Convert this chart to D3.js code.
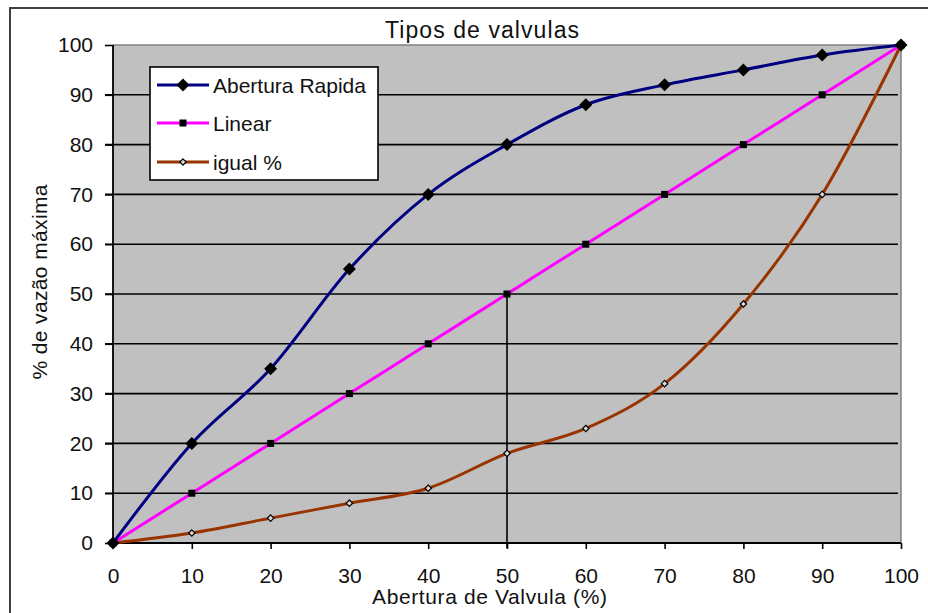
<!DOCTYPE html>
<html>
<head>
<meta charset="utf-8">
<script src="https://cdn.jsdelivr.net/npm/d3@7"></script>
<style>
  html, body { margin: 0; padding: 0; background: #fff; }
  svg { display: block; font-family: "Liberation Sans", Arial, sans-serif; }
</style>
</head>
<body>
<svg id="chart" width="928" height="613"></svg>
<script>
// ---- data ----
const xValues = [0, 10, 20, 30, 40, 50, 60, 70, 80, 90, 100];
const abertura = [0, 20, 35, 55, 70, 80, 88, 92, 95, 98, 100];
const linear   = [0, 10, 20, 30, 40, 50, 60, 70, 80, 90, 100];
const igual    = [0, 2, 5, 8, 11, 18, 23, 32, 48, 70, 100];
const seriesNames = ["Abertura Rapida", "Linear", "igual %"];
const xTicks = [0, 10, 20, 30, 40, 50, 60, 70, 80, 90, 100];
const yTicks = [0, 10, 20, 30, 40, 50, 60, 70, 80, 90, 100];
const title = "Tipos de valvulas";
const xTitle = "Abertura de Valvula (%)";
const yTitle = "% de vazão máxima";

// ---- layout ----
const L = 113, R = 901, T = 45, B = 543;
const svg = d3.select("#chart");
const x = d3.scaleLinear().domain([0, 100]).range([L, R]);
const y = d3.scaleLinear().domain([0, 100]).range([B, T]);

// outer border
svg.append("rect").attr("x", 10).attr("y", 8).attr("width", 1000).attr("height", 1000)
  .attr("fill", "#fff").attr("stroke", "#404040").attr("stroke-width", 2);

// plot area
svg.append("rect").attr("x", L).attr("y", T).attr("width", R - L).attr("height", B - T)
  .attr("fill", "#C0C0C0");

// gridlines
svg.append("g").selectAll("line").data(yTicks.filter(d => d > 0 && d < 100)).join("line")
  .attr("x1", L - 8).attr("x2", R - 3)
  .attr("y1", d => y(d)).attr("y2", d => y(d))
  .attr("stroke", "#000").attr("stroke-width", 1.6);

// top/right border gray
svg.append("path").attr("d", `M${L},${T}H${R}V${B}`).attr("fill", "none")
  .attr("stroke", "#808080").attr("stroke-width", 1.5);

// axes
const fs = 21;
const yAxis = svg.append("g").attr("transform", `translate(${L},0)`)
  .call(d3.axisLeft(y).tickValues(yTicks).tickSize(8).tickPadding(12).tickFormat(d3.format("d")));
const xAxis = svg.append("g").attr("transform", `translate(0,${B})`)
  .call(d3.axisBottom(x).tickValues(xTicks).tickSize(6).tickPadding(19).tickFormat(d3.format("d")));
[yAxis, xAxis].forEach(g => {
  g.select(".domain").remove();
  g.selectAll("line").attr("stroke", "#000").attr("stroke-width", 1.6);
  g.selectAll("text").attr("font-size", fs).attr("fill", "#111")
    .attr("font-family", "'Liberation Sans', Arial, sans-serif");
});
xAxis.selectAll(".tick").filter(d => d === 0).select("line").remove();

// left & bottom axis lines
svg.append("path").attr("d", `M${L},${T}V${B}H${R}`).attr("fill", "none")
  .attr("stroke", "#000").attr("stroke-width", 1.8);

// drop line at x=50
svg.append("line").attr("x1", x(50)).attr("x2", x(50)).attr("y1", y(linear[5])).attr("y2", B + 5)
  .attr("stroke", "#000").attr("stroke-width", 1.6);

// series
const curve = d3.curveCatmullRom.alpha(0);
const series = [
  { name: seriesNames[0], values: abertura, color: "#000080", marker: "diamond" },
  { name: seriesNames[1], values: linear, color: "#FF00FF", marker: "square" },
  { name: seriesNames[2], values: igual, color: "#993300", marker: "small" }
];
const line = d3.line().x(d => x(d[0])).y(d => y(d[1])).curve(curve);

function drawMarker(g, type, cx, cy) {
  if (type === "diamond") {
    g.append("path").attr("d", `M${cx},${cy - 6.5}L${cx + 6.5},${cy}L${cx},${cy + 6.5}L${cx - 6.5},${cy}Z`)
      .attr("fill", "#000");
  } else if (type === "square") {
    g.append("rect").attr("x", cx - 3.5).attr("y", cy - 3.5).attr("width", 7).attr("height", 7)
      .attr("fill", "#000");
  } else {
    g.append("path").attr("d", `M${cx},${cy - 3.2}L${cx + 3.2},${cy}L${cx},${cy + 3.2}L${cx - 3.2},${cy}Z`)
      .attr("fill", "#d8d8d8").attr("stroke", "#000").attr("stroke-width", 1.2);
  }
}

// draw lines (igual first so order resembles reference)
[series[2], series[1], series[0]].forEach(s => {
  svg.append("path").datum(xValues.map((xv, i) => [xv, s.values[i]]))
    .attr("d", line).attr("fill", "none").attr("stroke", s.color).attr("stroke-width", 3)
    .attr("stroke-linejoin", "round");
});
[series[2], series[1], series[0]].forEach(s => {
  const g = svg.append("g");
  xValues.forEach((xv, i) => drawMarker(g, s.marker, x(xv), y(s.values[i])));
});

// legend
const lg = svg.append("g");
lg.append("rect").attr("x", 150).attr("y", 67).attr("width", 228).attr("height", 113)
  .attr("fill", "#fff").attr("stroke", "#000").attr("stroke-width", 1.6);
const rowsY = [85, 123, 162];
series.forEach((s, i) => {
  const ry = rowsY[i];
  lg.append("line").attr("x1", 157).attr("x2", 209).attr("y1", ry).attr("y2", ry)
    .attr("stroke", s.color).attr("stroke-width", 3);
  drawMarker(lg, s.marker, 183, ry);
  lg.append("text").attr("x", 213).attr("y", ry + 8).attr("font-size", fs).attr("fill", "#111")
    .text(s.name);
});

// titles
svg.append("text").attr("x", 482).attr("y", 38).attr("text-anchor", "middle")
  .attr("font-size", 23).attr("fill", "#111").attr("textLength", 194).attr("lengthAdjust", "spacing")
  .text(title);
svg.append("text").attr("x", 489.5).attr("y", 604).attr("text-anchor", "middle")
  .attr("font-size", fs).attr("fill", "#111").attr("textLength", 235).attr("lengthAdjust", "spacing")
  .text(xTitle);
svg.append("text").attr("transform", "translate(47,282) rotate(-90)").attr("text-anchor", "middle")
  .attr("font-size", fs).attr("fill", "#111").attr("textLength", 195).attr("lengthAdjust", "spacing")
  .text(yTitle);
</script>
</body>
</html>
